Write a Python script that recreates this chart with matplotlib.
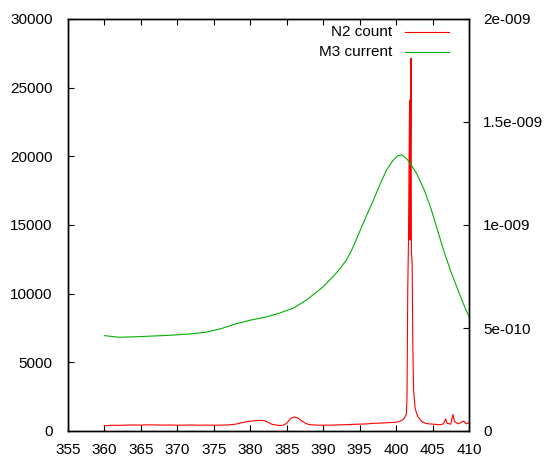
import numpy as np
import matplotlib
matplotlib.use('Agg')
import matplotlib.pyplot as plt

plt.rcParams['font.family'] = ['Liberation Sans', 'DejaVu Sans']
plt.rcParams['font.size'] = 11

#########################################################################
# DATA
#########################################################################
# N2 count (left axis)
n2_x = [360, 361, 362, 363, 364, 365, 366, 367, 368, 369, 370, 371, 372,
        373, 374, 375, 376, 377, 378, 379, 380, 381, 381.5, 382, 382.5,
        383, 384, 384.5, 385, 385.5, 386, 386.5, 387, 387.5, 388, 389,
        390, 391, 392, 393, 394, 395, 396, 397, 398, 399, 400, 400.5, 401,
        401.4, 401.5, 401.6, 401.7, 401.85, 401.9, 401.95, 402.05, 402.1,
        402.2, 402.3, 402.4, 402.6, 402.8, 403, 403.5, 404, 404.5, 405,
        405.5, 406, 406.5, 406.8, 407, 407.5, 407.8, 408, 408.5, 409,
        409.3, 409.6, 410]
n2_count = [380, 420, 410, 430, 440, 430, 450, 440, 430, 440, 420, 430,
            440, 420, 430, 420, 430, 440, 500, 620, 720, 760, 780, 740,
            620, 480, 400, 420, 560, 900, 1020, 950, 760, 580, 470, 430,
            420, 430, 440, 460, 480, 500, 520, 560, 580, 610, 640, 700,
            850, 1200, 2500, 10300, 13900, 24100, 13900, 18000, 27150,
            13000, 12300, 6000, 3000, 1700, 1300, 1050, 700, 560, 520,
            500, 480, 450, 520, 880, 560, 500, 1200, 700, 520, 650, 720,
            520, 600]

# M3 current (right axis), in units of 1e-10
m3_x = [360, 361, 362, 364, 366, 368, 370, 372, 374, 376, 378, 380, 382,
        384, 386, 387.7, 389, 390, 390.9, 392, 393.2, 394, 395.1, 396,
        396.9, 397.8, 398.7, 399.5, 400.2, 400.8, 401.5, 402, 402.8,
        403.8, 404.7, 405.6, 406.5, 407.4, 408.3, 409.2, 410]
m3_current = [4.63, 4.59, 4.55, 4.57, 4.60, 4.63, 4.67, 4.72, 4.80, 4.97,
              5.20, 5.38, 5.52, 5.72, 5.98, 6.36, 6.72, 7.00, 7.33, 7.75,
              8.30, 8.85, 9.76, 10.50, 11.21, 11.98, 12.67, 13.10, 13.36,
              13.40, 13.20, 12.95, 12.51, 11.75, 10.89, 9.85, 8.79, 7.85,
              7.01, 6.20, 5.55]

x_ticks = [355, 360, 365, 370, 375, 380, 385, 390, 395, 400, 405, 410]
y_ticks = [0, 5000, 10000, 15000, 20000, 25000, 30000]
y2_ticks = [0, 5e-10, 1e-9, 1.5e-9, 2e-9]
y2_labels = ['0', '5e-010', '1e-009', '1.5e-009', '2e-009']

#########################################################################
# PLOT
#########################################################################
fig = plt.figure(figsize=(5.47, 4.59), dpi=100)
ax = fig.add_axes([68 / 547, 28 / 459, 401 / 547, 412 / 459])
ax2 = ax.twinx()

ax.plot(n2_x, n2_count, color='#ff0000', lw=0.8)
ax2.plot(m3_x, np.array(m3_current) * 1e-10, color='#00b000', lw=0.8)

ax.set_xlim(355, 410)
ax.set_ylim(0, 30000)
ax2.set_ylim(0, 2e-9)

ax.set_xticks(x_ticks)
ax.set_yticks(y_ticks)
ax2.set_yticks(y2_ticks)
ax2.set_yticklabels(y2_labels)

ax.tick_params(axis='x', direction='in', length=4, width=0.8,
               top=True, bottom=True, pad=9)
ax.tick_params(axis='y', direction='in', length=4, width=0.8,
               left=True, right=False, pad=11)
ax2.tick_params(axis='y', direction='in', length=4, width=0.8,
                right=True, left=False, pad=10)

for a in (ax, ax2):
    for s in a.spines.values():
        s.set_linewidth(1.0)
        s.set_color('black')

# gnuplot-style key, text right-justified with sample to the right
key = [('N2 count', '#ff0000', 0.968), ('M3 current', '#00b000', 0.920)]
for label, col, yk in key:
    ax.text(0.808, yk, label, transform=ax.transAxes, ha='right',
            va='center', fontsize=11)
    ax.plot([0.840, 0.950], [yk, yk], transform=ax.transAxes, color=col,
            lw=0.8)

fig.savefig('out.png', dpi=100)
